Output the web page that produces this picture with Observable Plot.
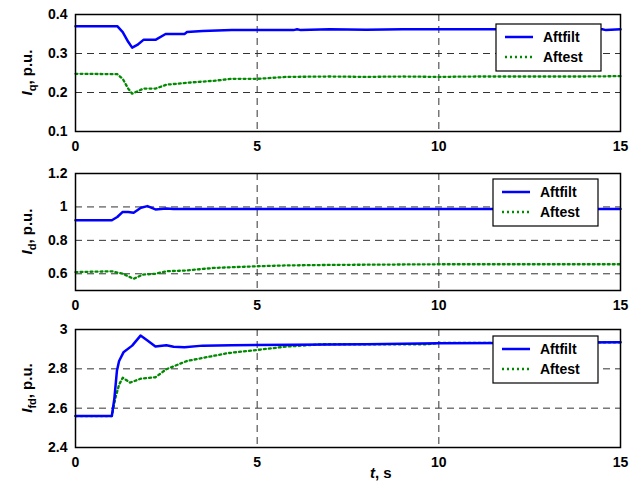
<!DOCTYPE html>
<html>
<head>
<meta charset="utf-8">
<script src="https://cdn.jsdelivr.net/npm/d3@7"></script>
<script src="https://cdn.jsdelivr.net/npm/@observablehq/plot@0.6"></script>
<style>
  html, body { margin: 0; padding: 0; background: #fff; }
  #wrap { position: relative; width: 640px; height: 494px; }
  #wrap svg { position: absolute; left: 0; }
</style>
</head>
<body>
<div id="wrap"></div>
<script>
// ---- data ----
const seriesNames = ["Aftfilt", "Aftest"];
const xTicks = [0, 5, 10, 15];

// Iq
const iqFiltT = [0, 1.15, 1.3, 1.45, 1.56, 1.7, 1.87, 2.2, 2.48, 3.0, 3.07, 3.5, 4.3, 6.0, 6.1, 6.2, 7, 8, 9, 10, 11, 12, 13, 14, 14.5, 14.6, 15];
const iqFilt  = [0.37, 0.37, 0.355, 0.33, 0.315, 0.322, 0.335, 0.335, 0.35, 0.35, 0.355, 0.358, 0.36, 0.36, 0.362, 0.36, 0.362, 0.361, 0.362, 0.362, 0.362, 0.362, 0.362, 0.362, 0.362, 0.36, 0.362];
const iqEstT  = [0, 1.15, 1.3, 1.45, 1.56, 1.87, 2.2, 2.5, 3.07, 3.8, 4.3, 5, 5.8, 7, 8, 9, 10, 11, 12, 13, 14, 15];
const iqEst   = [0.248, 0.247, 0.235, 0.21, 0.197, 0.21, 0.21, 0.22, 0.225, 0.23, 0.235, 0.235, 0.24, 0.241, 0.24, 0.241, 0.24, 0.241, 0.241, 0.241, 0.241, 0.242];
const iqTicks = [0.1, 0.2, 0.3, 0.4];

// Id
const idFiltT = [0, 1.0, 1.15, 1.3, 1.45, 1.6, 1.8, 1.98, 2.2, 2.5, 2.7, 15];
const idFilt  = [0.92, 0.92, 0.94, 0.97, 0.97, 0.965, 0.995, 1.005, 0.985, 0.99, 0.987, 0.987];
const idEstT  = [0, 1.0, 1.3, 1.6, 1.85, 2.2, 2.5, 3.07, 3.8, 5, 5.8, 7, 10, 15];
const idEst   = [0.61, 0.615, 0.6, 0.57, 0.595, 0.6, 0.615, 0.62, 0.635, 0.645, 0.65, 0.653, 0.657, 0.657];
const idTicks = [0.6, 0.8, 1, 1.2];

// Ifd
const ifdFiltT = [0, 1.0, 1.07, 1.14, 1.2, 1.32, 1.56, 1.79, 1.98, 2.2, 2.5, 2.7, 3.0, 3.5, 4.3, 6, 8, 10, 12, 15];
const ifdFilt  = [2.56, 2.56, 2.65, 2.79, 2.84, 2.884, 2.918, 2.969, 2.944, 2.913, 2.92, 2.912, 2.91, 2.918, 2.92, 2.922, 2.925, 2.93, 2.932, 2.935];
const ifdEstT  = [0, 1.0, 1.1, 1.2, 1.3, 1.5, 1.8, 2.2, 2.5, 3.07, 3.8, 4.2, 5, 5.8, 6.8, 8, 9.7, 10, 12, 15];
const ifdEst   = [2.56, 2.56, 2.653, 2.72, 2.755, 2.73, 2.75, 2.757, 2.798, 2.84, 2.866, 2.88, 2.896, 2.913, 2.925, 2.925, 2.925, 2.932, 2.932, 2.935];
const ifdTicks = [2.4, 2.6, 2.8, 3];

const BLUE = "#0000ff", GREEN = "#008a00";
const FONT = "'Liberation Sans', Arial, sans-serif";

function pts(t, v) { return t.map((x, i) => ({t: x, v: v[i]})); }

function panel(cfg) {
  const svg = Plot.plot({
    width: 640, height: cfg.height,
    marginLeft: 75, marginRight: 20, marginTop: cfg.mt, marginBottom: cfg.mb,
    style: {fontFamily: FONT, fontSize: "14px", fontWeight: "bold", background: "white", overflow: "visible"},
    x: {domain: [0, 15], ticks: xTicks},
    y: {domain: cfg.domain, ticks: cfg.ticks},
    marks: [
      Plot.ruleX([5, 10], {stroke: "#333", strokeWidth: 1, strokeDasharray: "7,5"}),
      Plot.ruleY(cfg.grid, {stroke: "#333", strokeWidth: 1, strokeDasharray: "7,5"}),
      Plot.line(pts(cfg.et, cfg.ev), {x: "t", y: "v", stroke: GREEN, strokeWidth: 2.3, strokeDasharray: "2,3"}),
      Plot.line(pts(cfg.ft, cfg.fv), {x: "t", y: "v", stroke: BLUE, strokeWidth: 2.5}),
      Plot.frame({stroke: "black", strokeWidth: 1.5}),
      Plot.axisX({ticks: xTicks, tickSize: 0, tickPadding: 10, label: null, fill: "black", tickFormat: d => String(d)}),
      Plot.axisY({ticks: cfg.ticks, tickSize: 0, tickPadding: 8, label: null, fill: "black", tickFormat: d => String(d)})
    ]
  });
  svg.style.top = cfg.top + "px";
  const s = d3.select(svg);
  // y-axis title with italic I and subscript
  const cy = cfg.mt + (cfg.height - cfg.mt - cfg.mb) / 2;
  const tx = s.append("text")
    .attr("transform", `translate(32,${cy}) rotate(-90)`)
    .attr("text-anchor", "middle")
    .attr("font-family", FONT).attr("font-size", 15).attr("font-weight", "bold");
  tx.append("tspan").attr("font-style", "italic").text("I");
  tx.append("tspan").attr("font-size", 11).attr("dy", 4).text(cfg.sub);
  tx.append("tspan").attr("dy", -4).text(", p.u.");
  // legend
  const lg = s.append("g").attr("transform", `translate(${cfg.lx},${cfg.ly})`);
  lg.append("rect").attr("width", 105).attr("height", 47).attr("fill", "white").attr("stroke", "black").attr("stroke-width", 1.2);
  const rows = [{c: BLUE, d: null, w: 2.5}, {c: GREEN, d: "2,3", w: 2.3}];
  rows.forEach((r, i) => {
    const y = 13 + i * 20;
    const ln = lg.append("line").attr("x1", 9).attr("x2", 37).attr("y1", y).attr("y2", y)
      .attr("stroke", r.c).attr("stroke-width", r.w);
    if (r.d) ln.attr("stroke-dasharray", r.d);
    lg.append("text").attr("x", 47).attr("y", y + 5).attr("text-anchor", "start").attr("font-family", FONT)
      .attr("font-size", 14).attr("font-weight", "bold").attr("fill", "black").text(seriesNames[i]);
  });
  if (cfg.xlabel) {
    const xl = s.append("text").attr("x", 370).attr("y", cfg.height - 16).attr("text-anchor", "start")
      .attr("font-family", FONT).attr("font-size", 15).attr("font-weight", "bold");
    xl.append("tspan").attr("font-style", "italic").text("t");
    xl.append("tspan").text(", s");
  }
  document.getElementById("wrap").appendChild(svg);
}

panel({top: 0, height: 158, mt: 14, mb: 27, domain: [0.1, 0.4], ticks: iqTicks, grid: [0.2, 0.3],
  ft: iqFiltT, fv: iqFilt, et: iqEstT, ev: iqEst, sub: "q", lx: 496, ly: 24});
panel({top: 158, height: 158, mt: 15, mb: 26, domain: [0.5, 1.2], ticks: idTicks, grid: [0.6, 0.8, 1],
  ft: idFiltT, fv: idFilt, et: idEstT, ev: idEst, sub: "d", lx: 493, ly: 21});
panel({top: 316, height: 178, mt: 13, mb: 47, domain: [2.4, 3], ticks: ifdTicks, grid: [2.4, 2.6, 2.8],
  ft: ifdFiltT, fv: ifdFilt, et: ifdEstT, ev: ifdEst, sub: "fd", lx: 493, ly: 20, xlabel: true});
</script>
</body>
</html>
